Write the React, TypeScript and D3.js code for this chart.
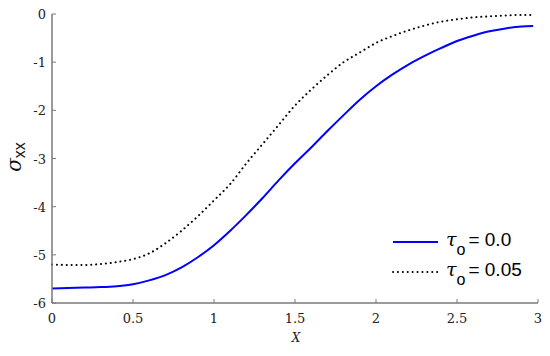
import React from 'react'
import { scaleLinear, line, curveMonotoneX } from 'd3'

// X positions shared by both curves
const xs = [0, 0.1, 0.2, 0.3, 0.4, 0.5, 0.6, 0.7, 0.8, 0.9, 1.0, 1.1, 1.2, 1.3, 1.4, 1.5,
  1.6, 1.7, 1.8, 1.9, 2.0, 2.1, 2.2, 2.3, 2.4, 2.5, 2.6, 2.7, 2.8, 2.9, 2.97]

// tau_o = 0.0 (blue solid)
const sigmaTau0 = [-5.7, -5.69, -5.68, -5.67, -5.65, -5.61, -5.53, -5.42, -5.26, -5.05, -4.8,
  -4.5, -4.17, -3.82, -3.45, -3.1, -2.77, -2.43, -2.1, -1.78, -1.5, -1.26, -1.05, -0.87,
  -0.71, -0.56, -0.45, -0.36, -0.3, -0.26, -0.25]

// tau_o = 0.05 (black dotted)
const sigmaTau05 = [-5.2, -5.21, -5.21, -5.19, -5.15, -5.09, -4.97, -4.76, -4.5, -4.2, -3.87,
  -3.53, -3.1, -2.7, -2.3, -1.9, -1.57, -1.27, -1.0, -0.8, -0.6, -0.46, -0.34, -0.24,
  -0.16, -0.11, -0.07, -0.05, -0.03, -0.02, -0.02]

const xTicks = [0, 0.5, 1, 1.5, 2, 2.5, 3]
const yTicks = [0, -1, -2, -3, -4, -5, -6]
const legendLabels = ['0.0', '0.05']

const width = 550
const height = 356
const margin = { top: 14, right: 12, bottom: 53, left: 52 }
const axisColor = '#7a7a7a'
const serif = 'DejaVu Serif'
const sans = 'Liberation Sans'

const App = () => {
  const x = scaleLinear().domain([0, 3]).range([margin.left, width - margin.right])
  const y = scaleLinear().domain([-6, 0]).range([height - margin.bottom, margin.top])

  const path = line<number>()
    .x((_, i) => x(xs[i]))
    .y((d) => y(d))
    .curve(curveMonotoneX)

  const styles = [
    { stroke: '#0000ff', strokeWidth: 2, dash: undefined, cap: 'butt' },
    { stroke: '#000000', strokeWidth: 2, dash: '0.1 4.8', cap: 'round' },
  ]

  const legendX = 393
  const legendY = [242, 272]

  return (
    <svg width={width} height={height} style={{ position: 'absolute', left: 0, top: 0, background: '#fff' }}>
      {/* curves */}
      {[sigmaTau0, sigmaTau05].map((s, i) => (
        <path key={`c-${i}`} d={path(s) ?? ''} fill="none" stroke={styles[i].stroke}
          strokeWidth={styles[i].strokeWidth} strokeDasharray={styles[i].dash}
          strokeLinecap={styles[i].cap as any} />
      ))}

      {/* axes */}
      <line x1={x(0)} x2={x(3)} y1={y(-6)} y2={y(-6)} stroke={axisColor} strokeWidth={1.5} />
      <line x1={x(0)} x2={x(0)} y1={y(-6)} y2={y(0)} stroke={axisColor} strokeWidth={1.5} />
      {xTicks.map((t) => (
        <g key={`xt-${t}`}>
          <line x1={x(t)} x2={x(t)} y1={y(-6)} y2={y(-6) - 4} stroke={axisColor} strokeWidth={1} />
          <text x={x(t)} y={y(-6) + 20} textAnchor="middle" style={{ fontFamily: serif }} fontSize={13} fill="#222">{t}</text>
        </g>
      ))}
      {yTicks.map((t) => (
        <g key={`yt-${t}`}>
          <line x1={x(0)} x2={x(0) + 4} y1={y(t)} y2={y(t)} stroke={axisColor} strokeWidth={1} />
          <text x={x(0) - 6} y={y(t) + 5} textAnchor="end" style={{ fontFamily: serif }} fontSize={13} fill="#222">{t}</text>
        </g>
      ))}

      {/* axis labels */}
      <text x={296} y={342} textAnchor="middle" style={{ fontFamily: serif, fontStyle: 'italic' }} fontSize={12} fill="#222">X</text>
      <g transform="translate(21, 157) rotate(-90)">
        <text x={0} y={0} textAnchor="middle" fontSize={20} fill="#111">
          <tspan style={{ fontFamily: serif, fontStyle: 'italic' }}>σ</tspan>
          <tspan style={{ fontFamily: sans }} fontSize={16} dy={4}>xx</tspan>
        </text>
      </g>

      {/* legend */}
      {legendLabels.map((lab, i) => (
        <g key={`lg-${i}`}>
          <line x1={legendX} x2={legendX + 45} y1={legendY[i]} y2={legendY[i]} stroke={styles[i].stroke}
            strokeWidth={styles[i].strokeWidth} strokeDasharray={styles[i].dash}
            strokeLinecap={styles[i].cap as any} />
          <text x={446} y={legendY[i] + 4} fontSize={19} fill="#000">
            <tspan style={{ fontFamily: serif, fontStyle: 'italic' }}>τ</tspan>
            <tspan style={{ fontFamily: sans }} fontSize={16} dy={9}>o</tspan>
            <tspan style={{ fontFamily: sans }} dx={3} dy={-9}>= {lab}</tspan>
          </text>
        </g>
      ))}
    </svg>
  )
}

export default App
